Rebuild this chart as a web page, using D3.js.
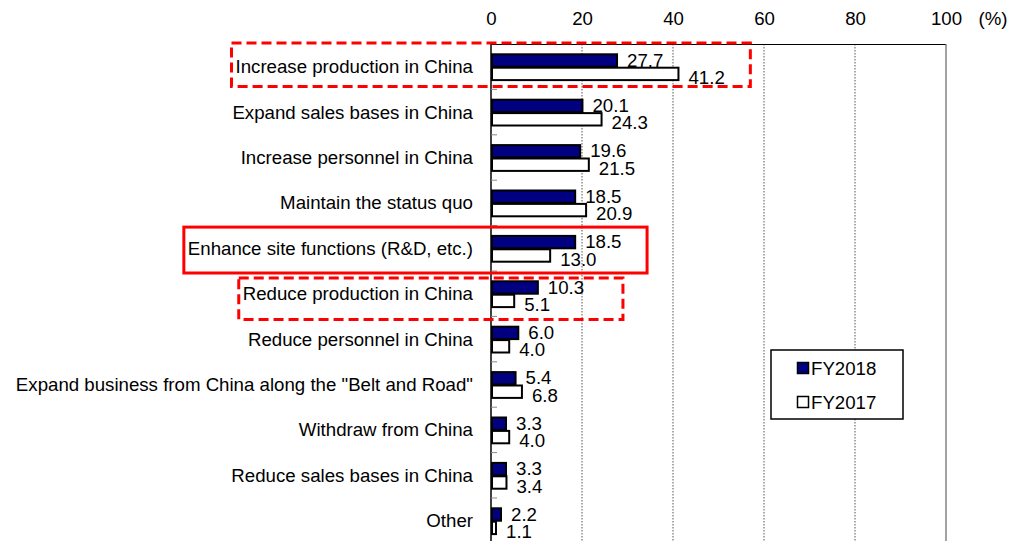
<!DOCTYPE html>
<html>
<head>
<meta charset="utf-8">
<script src="https://cdn.jsdelivr.net/npm/d3@7/dist/d3.min.js"></script>
<style>
  html, body { margin: 0; padding: 0; background: #fff; }
  svg { display: block; font-family: "Liberation Sans", Arial, sans-serif; }
</style>
</head>
<body>
<svg id="chart" width="1023" height="541"></svg>
<script>
// Planned changes to China operations, share of respondents (%)
const categories = [
  "Increase production in China",
  "Expand sales bases in China",
  "Increase personnel in China",
  "Maintain the status quo",
  "Enhance site functions (R&D, etc.)",
  "Reduce production in China",
  "Reduce personnel in China",
  "Expand business from China along the \"Belt and Road\"",
  "Withdraw from China",
  "Reduce sales bases in China",
  "Other"
];
const fy2018 = [27.7, 20.1, 19.6, 18.5, 18.5, 10.3, 6.0, 5.4, 3.3, 3.3, 2.2];
const fy2017 = [41.2, 24.3, 21.5, 20.9, 13.0, 5.1, 4.0, 6.8, 4.0, 3.4, 1.1];
const seriesNames = ["FY2018", "FY2017"];
const xTicks = [0, 20, 40, 60, 80, 100];
// highlighted rows: category, outline style, value where the outline ends on the right
const highlights = [
  { category: "Increase production in China", dashed: true, upTo: 57 },
  { category: "Enhance site functions (R&D, etc.)", dashed: false, upTo: 34.3 },
  { category: "Reduce production in China", dashed: true, upTo: 29 }
];

const svg = d3.select("#chart");
const plotLeft = 491, plotRight = 946, plotTop = 44, plotBottom = 543.4;
const fontSize = 18.67;

const x = d3.scaleLinear().domain([0, 100]).range([plotLeft, plotRight]);
const y = d3.scaleBand().domain(categories).range([plotTop, plotBottom]);
const ySub = d3.scaleBand().domain(seriesNames).range([0, y.bandwidth()]).paddingOuter(0.694);
const fills = { FY2018: "#000080", FY2017: "#ffffff" };

// gridlines
svg.append("g").selectAll("line")
  .data(xTicks.filter(t => t > 0 && t < 100))
  .join("line")
  .attr("x1", d => x(d)).attr("x2", d => x(d))
  .attr("y1", plotTop).attr("y2", plotBottom)
  .attr("stroke", "#555").attr("stroke-width", 1)
  .attr("stroke-dasharray", "1.5,1.5");

// plot frame: top and right edges
svg.append("line").attr("x1", plotLeft).attr("x2", plotRight).attr("y1", plotTop + 0.5).attr("y2", plotTop + 0.5)
  .attr("stroke", "#000").attr("stroke-width", 1.2);
svg.append("line").attr("x1", plotRight).attr("x2", plotRight).attr("y1", plotTop).attr("y2", plotBottom)
  .attr("stroke", "#666").attr("stroke-width", 1.2);

// top axis labels
const xAxis = d3.axisTop(x).tickValues(xTicks).tickSize(0).tickPadding(0).tickFormat(d3.format("d"));
const gx = svg.append("g").attr("transform", `translate(0,25)`).call(xAxis);
gx.select(".domain").remove();
gx.selectAll("text").attr("font-size", fontSize).attr("fill", "#000")
  .attr("font-family", "Liberation Sans, Arial, sans-serif");
svg.append("text").attr("x", 993).attr("y", 18).attr("dy", "0.35em")
  .attr("text-anchor", "middle").attr("font-size", fontSize).text("(%)");

// bars with value labels
const rows = categories.map((c, i) => ({ c, values: [
  { s: "FY2018", v: fy2018[i] }, { s: "FY2017", v: fy2017[i] }
]}));

const sw = 2;
const g = svg.append("g");
rows.forEach(r => {
  r.values.forEach(d => {
    const y0 = y(r.c) + ySub(d.s);
    g.append("rect")
      .attr("x", x(0) + sw / 2)
      .attr("y", y0 + sw / 2)
      .attr("width", Math.max(0, x(d.v) - x(0) - sw / 2))
      .attr("height", ySub.bandwidth() - sw / 2)
      .attr("fill", fills[d.s])
      .attr("stroke", "#000")
      .attr("stroke-width", sw);
    g.append("text")
      .attr("x", x(d.v) + 10)
      .attr("y", y0 + ySub.bandwidth() / 2 + (d.s === "FY2018" ? 0 : 4))
      .attr("dy", "0.35em")
      .attr("font-size", fontSize)
      .text(d3.format(".1f")(d.v));
  });
});

// category axis
svg.append("line").attr("x1", plotLeft).attr("x2", plotLeft).attr("y1", plotTop).attr("y2", 541)
  .attr("stroke", "#000").attr("stroke-width", 1.5);
svg.append("g").selectAll("line")
  .data(categories.slice(1))
  .join("line")
  .attr("x1", plotLeft).attr("x2", plotLeft + 6)
  .attr("y1", d => y(d)).attr("y2", d => y(d))
  .attr("stroke", "#888").attr("stroke-width", 1);

const labels = svg.append("g").selectAll("text")
  .data(categories)
  .join("text")
  .attr("x", plotLeft - 18)
  .attr("y", d => y(d) + y.bandwidth() / 2)
  .attr("dy", "0.35em")
  .attr("text-anchor", "end")
  .attr("font-size", fontSize)
  .text(d => d);

// red outlines around highlighted rows
// vertical extent of each outline relative to its row band: [top inset, bottom inset]
const outlineInsets = [[-1, -3], [1.5, 2], [7, 3]];
const labelBox = {};
labels.each(function(d) { labelBox[d] = this.getBBox(); });
svg.append("g").selectAll("rect")
  .data(highlights)
  .join("rect")
  .attr("x", d => labelBox[d.category].x - 4)
  .attr("y", (d, i) => y(d.category) + outlineInsets[i][0])
  .attr("width", d => x(d.upTo) - labelBox[d.category].x + 4)
  .attr("height", (d, i) => y.bandwidth() - outlineInsets[i][0] + outlineInsets[i][1])
  .attr("fill", "none")
  .attr("stroke", "#ff0000")
  .attr("stroke-width", 3)
  .attr("stroke-dasharray", d => d.dashed ? "10,5" : null);

// legend
const lg = svg.append("g").attr("transform", "translate(771,350)");
lg.append("rect").attr("width", 132).attr("height", 69)
  .attr("fill", "#fff").attr("stroke", "#000").attr("stroke-width", 1.5);
seriesNames.forEach((s, i) => {
  const cy = 18 + i * 34;
  lg.append("rect").attr("x", 26.5).attr("y", cy - 5.5).attr("width", 11).attr("height", 11)
    .attr("fill", fills[s]).attr("stroke", "#000").attr("stroke-width", 1.5);
  lg.append("text").attr("x", 40).attr("y", cy).attr("dy", "0.35em")
    .attr("font-size", fontSize).text(s);
});
</script>
</body>
</html>
